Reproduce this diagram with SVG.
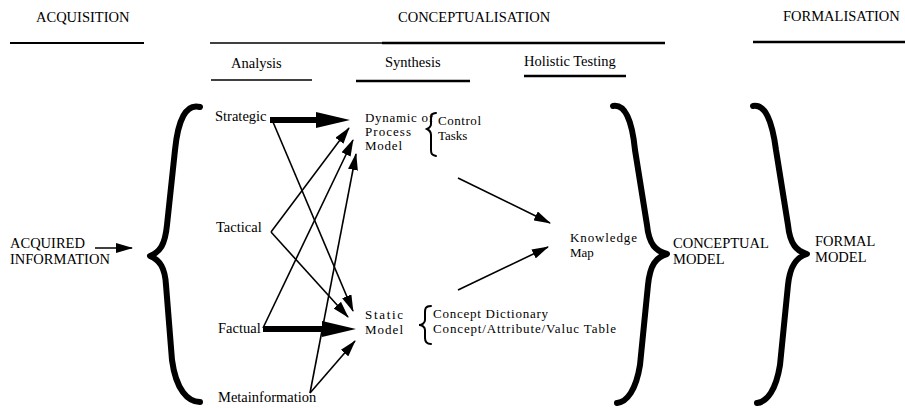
<svg xmlns="http://www.w3.org/2000/svg" width="905" height="408" viewBox="0 0 905 408">
<style>
text{font-family:"Liberation Serif","Times New Roman",serif;font-size:14.5px;fill:#000}
.st{font-size:13px}
.ln{stroke:#000;fill:none}
.brace{stroke:#000;fill:none;stroke-width:6;stroke-linecap:round;stroke-linejoin:round}
.sbrace{stroke:#000;fill:none;stroke-width:2;stroke-linecap:round}
.arr{stroke:#000;stroke-width:1.6;fill:none;marker-end:url(#ah)}
</style>
<defs>
<marker id="ah" markerUnits="userSpaceOnUse" markerWidth="17" markerHeight="10" refX="16" refY="5" orient="auto">
<path d="M0,0 L17,5 L0,10 Z" fill="#000"/>
</marker>
</defs>
<rect width="905" height="408" fill="#fff"/>
<g id="headers">
<text x="36" y="22">ACQUISITION</text>
<text x="398" y="22">CONCEPTUALISATION</text>
<text x="783" y="21">FORMALISATION</text>
<line class="ln" x1="10" y1="43" x2="144" y2="43" stroke-width="2.2"/>
<line class="ln" x1="210" y1="43" x2="382" y2="43" stroke-width="1.3"/>
<line class="ln" x1="382" y1="43" x2="665" y2="43" stroke-width="2.6"/>
<line class="ln" x1="753" y1="42" x2="905" y2="42" stroke-width="2.4"/>
<text x="231" y="68">Analysis</text>
<text x="385" y="67">Synthesis</text>
<text x="524" y="66">Holistic Testing</text>
<line class="ln" x1="211" y1="80" x2="312" y2="80" stroke-width="1.6"/>
<line class="ln" x1="356" y1="81" x2="470" y2="81" stroke-width="2.6"/>
<line class="ln" x1="524" y1="76" x2="626" y2="76" stroke-width="2.6"/>
</g>
<g id="acquired">
<text x="10" y="248">ACQUIRED</text>
<text x="10" y="264">INFORMATION</text>
</g>
<g id="left-brace"><path class="brace" d="M200,107 C186,103 178,120 175,150 L167,225 C165,245 160,252 150,256 C160,260 165,268 166,285 L172,360 C176,390 188,402 200,402"/></g>
<g id="strategic"><text x="215" y="121">Strategic</text></g>
<g id="tactical"><text x="216" y="232">Tactical</text></g>
<g id="factual"><text x="218" y="333">Factual</text></g>
<g id="metainformation"><text x="218" y="402">Metainformation</text></g>
<g id="dynamic">
<text class="st" x="365" y="122" textLength="68" lengthAdjust="spacing">Dynamic of</text>
<text class="st" x="365" y="136" textLength="46" lengthAdjust="spacing">Process</text>
<text class="st" x="365" y="150" textLength="37" lengthAdjust="spacing">Model</text>
<path class="sbrace" d="M436,113 C431,113 431,116 431,121 L431,124 C431,127 429,128 427,129 C429,130 431,131 431,135 L431,150 C431,154 432,155 436,156"/>
<text class="st" x="438" y="125" textLength="43" lengthAdjust="spacing">Control</text>
<text class="st" x="438" y="140">Tasks</text>
</g>
<g id="static">
<text class="st" x="365" y="319" textLength="38" lengthAdjust="spacing">Static</text>
<text class="st" x="365" y="334" textLength="38" lengthAdjust="spacing">Model</text>
<path class="sbrace" d="M431,306 C425,306 425,309 425,313 L425,320 C425,323 422,325 419,325 C422,325 425,327 425,330 L425,338 C425,342 427,344 431,344"/>
<text class="st" x="433" y="318" textLength="115" lengthAdjust="spacing">Concept Dictionary</text>
<text class="st" x="433" y="333" textLength="183" lengthAdjust="spacing">Concept/Attribute/Valuc Table</text>
</g>
<g id="knowledge-map">
<text class="st" x="570" y="242" textLength="67" lengthAdjust="spacing">Knowledge</text>
<text class="st" x="570" y="257">Map</text>
</g>
<g id="conceptual-model">
<path class="brace" d="M613,106 C625,104 632,120 635,150 L647,225 C649,245 656,251 667,254 C656,257 650,265 648,285 L640,365 C636,390 627,402 617,403"/>
<text x="673" y="248">CONCEPTUAL</text>
<text x="673" y="264">MODEL</text>
</g>
<g id="formal-model">
<path class="brace" d="M753,106 C765,104 772,120 776,150 L788,225 C790,245 797,251 807,254 C797,257 790,265 788,285 L780,365 C776,390 767,402 757,403"/>
<text x="815" y="246">FORMAL</text>
<text x="815" y="262">MODEL</text>
</g>
<g id="connectors">
<line class="arr" x1="95" y1="248" x2="132" y2="248"/>
<rect x="270" y="117" width="48" height="6" fill="#000"/>
<polygon points="316,112 350,120 316,128" fill="#000"/>
<rect x="263" y="326" width="61" height="6" fill="#000"/>
<polygon points="322,321 356,329 322,337" fill="#000"/>
<line class="arr" x1="273" y1="122" x2="353" y2="311"/>
<line class="arr" x1="271" y1="232" x2="349" y2="128"/>
<line class="arr" x1="271" y1="232" x2="348" y2="317"/>
<line class="arr" x1="263" y1="328" x2="353" y2="140"/>
<line class="arr" x1="310" y1="393" x2="356" y2="154"/>
<line class="arr" x1="310" y1="393" x2="355" y2="341"/>
<line class="arr" x1="458" y1="178" x2="550" y2="223"/>
<line class="arr" x1="458" y1="290" x2="548" y2="247"/>
</g>
</svg>
